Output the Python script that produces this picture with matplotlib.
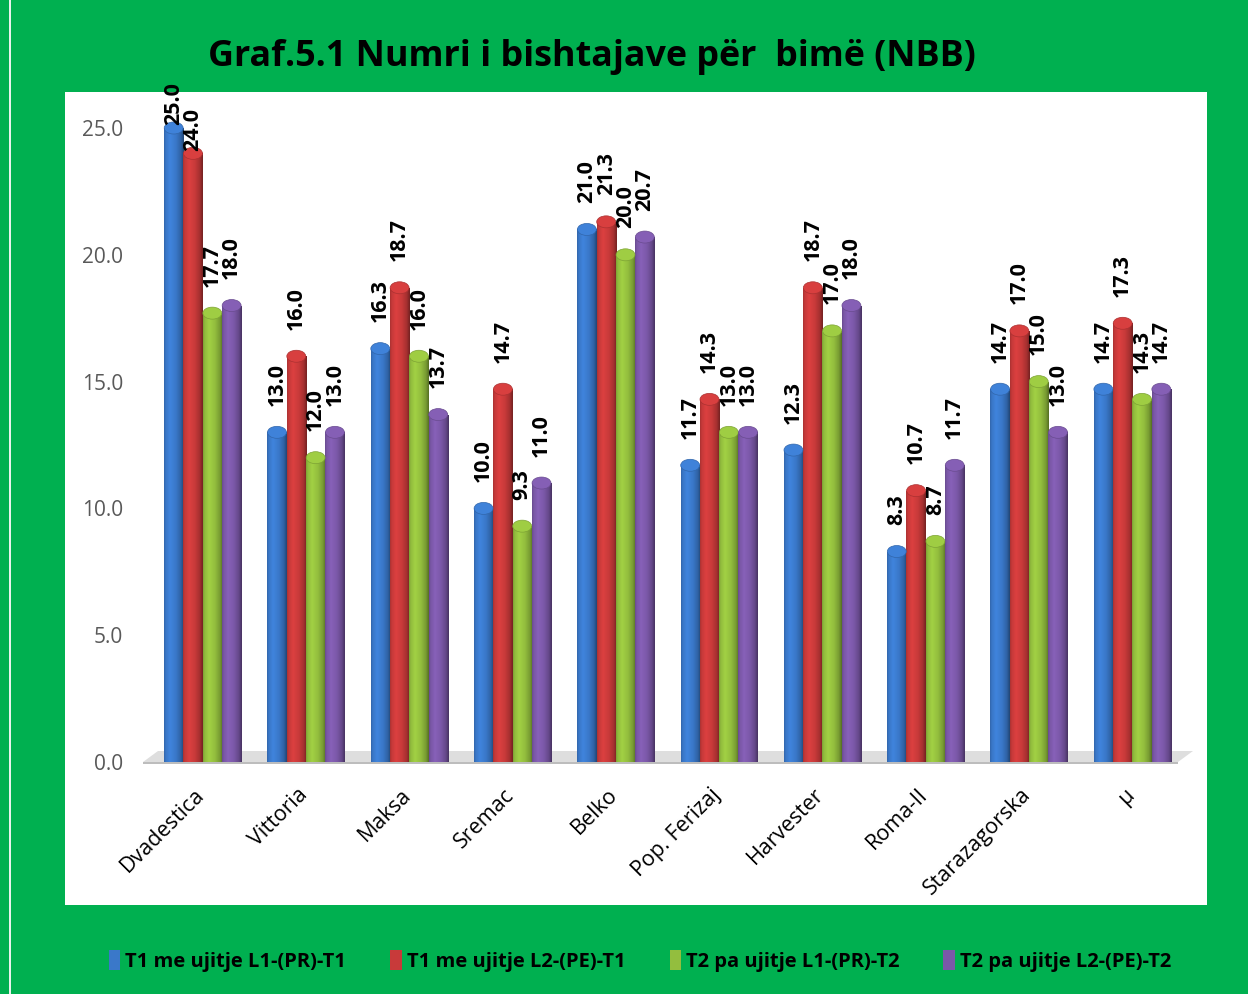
import numpy as np
import matplotlib
matplotlib.use("Agg")
import matplotlib.pyplot as plt
from matplotlib.patches import Rectangle, Polygon, Patch, Ellipse
from matplotlib.colors import to_rgb
from matplotlib.transforms import ScaledTranslation

categories = ["Dvadestica", "Vittoria", "Maksa", "Sremac", "Belko",
              "Pop. Ferizaj", "Harvester", "Roma-II", "Starazagorska", "\u03bc"]
series_names = ["T1 me ujitje L1-(PR)-T1", "T1 me ujitje L2-(PE)-T1",
                "T2 pa ujitje L1-(PR)-T2", "T2 pa ujitje L2-(PE)-T2"]
t1_l1 = [25.0, 13.0, 16.3, 10.0, 21.0, 11.7, 12.3, 8.3, 14.7, 14.7]
t1_l2 = [24.0, 16.0, 18.7, 14.7, 21.3, 14.3, 18.7, 10.7, 17.0, 17.3]
t2_l1 = [17.7, 12.0, 16.0, 9.3, 20.0, 13.0, 17.0, 8.7, 15.0, 14.3]
t2_l2 = [18.0, 13.0, 13.7, 11.0, 20.7, 13.0, 18.0, 11.7, 13.0, 14.7]
yticks = [0.0, 5.0, 10.0, 15.0, 20.0, 25.0]
title = "Graf.5.1 Numri i bishtajave p\u00ebr  bim\u00eb (NBB)"

colors = ["#3A78C9", "#C83A3A", "#93BE3E", "#7B58A8"]
GREEN = "#00B050"

W, H = 1248, 994
fig = plt.figure(figsize=(W / 100, H / 100), dpi=100)
fig.patch.set_facecolor(GREEN)

# white plot panel
fig.patches.append(Rectangle((65 / W, 1 - 905 / H), (1207 - 65) / W, (905 - 92) / H,
                             transform=fig.transFigure, facecolor="white",
                             edgecolor="none", zorder=-10))
# thin light edge on the left
fig.patches.append(Rectangle((9 / W, 0), 2 / W, 1, transform=fig.transFigure,
                             facecolor="#e8f3ec", edgecolor="none", zorder=-10))

ax = fig.add_axes([151 / W, 1 - 762 / H, 1033 / W, 670 / H])
ax.set_facecolor("none")
ax.patch.set_alpha(0)
for s in ax.spines.values():
    s.set_visible(False)

n = len(categories)
x = np.arange(n)
w = 0.187
ymax = 26.42
ax.set_xlim(-0.5, n - 0.5)
ax.set_ylim(0, ymax)

# floor (3D base)
px_per_unit_x = 1033 / n
px_per_unit_y = 670 / ymax
fx0 = (143 - 151) / px_per_unit_x - 0.5
fx1 = (1178 - 151) / px_per_unit_x - 0.5
dx = 15 / px_per_unit_x
dy = 11 / px_per_unit_y
ax.add_patch(Polygon([[fx0, 0], [fx1, 0], [fx1 + dx, dy], [fx0 + dx, dy]],
                     closed=True, facecolor="#dedede", edgecolor="none", zorder=1,
                     clip_on=False))
ax.add_patch(Polygon([[fx0, 0], [fx1, 0], [fx1, -2 / px_per_unit_y], [fx0, -2 / px_per_unit_y]],
                     closed=True, facecolor="#bdbdbd", edgecolor="none", zorder=1,
                     clip_on=False))

profile = np.linspace(0, 1, 64)
shade = np.interp(profile, [0, 0.08, 0.3, 0.6, 0.85, 1.0], [0.85, 0.98, 1.10, 1.0, 0.82, 0.58])

all_series = [t1_l1, t1_l2, t2_l1, t2_l2]
offsets = [-1.5 * w, -0.5 * w, 0.5 * w, 1.5 * w]
cap_h = 6 / px_per_unit_y
for si, (vals, col) in enumerate(zip(all_series, colors)):
    rgb = np.array(to_rgb(col))
    bars = ax.bar(x + offsets[si], vals, width=w, color=col, edgecolor="none", zorder=3)
    img = np.clip(shade[None, :, None] * rgb[None, None, :], 0, 1)
    for b in bars:
        bx, bw, bh = b.get_x(), b.get_width(), b.get_height()
        im = ax.imshow(img, extent=(bx, bx + bw, 0, bh), aspect="auto",
                       origin="lower", zorder=4, interpolation="bilinear")
        im.set_clip_path(b)
        # rounded top cap
        cap = Ellipse((bx + bw / 2, bh), bw * 0.98, cap_h * 2, facecolor=np.clip(rgb * 1.08, 0, 1),
                      edgecolor=np.clip(rgb * 0.85, 0, 1), lw=0.5, zorder=5, clip_on=False)
        ax.add_patch(cap)
        v = bh
        off = 2 if v + 2.45 > ymax else 19
        ax.annotate(f"{v:.1f}", (bx + bw / 2, v), xytext=(0, off), textcoords="offset points",
                    rotation=90, ha="center", va="bottom", fontsize=15.5, fontweight="bold",
                    family="Open Sans", color="black", zorder=6, annotation_clip=False)

ax.set_xlim(-0.5, n - 0.5)
ax.set_ylim(0, ymax)

ax.set_yticks(yticks)
ax.set_yticklabels([f"{t:.1f}" for t in yticks], fontsize=15, color="#595959", family="Open Sans")
ax.tick_params(axis="y", length=0, pad=20)
ax.set_xticks(x)
ax.set_xticklabels(categories, rotation=45, ha="right", va="top", rotation_mode="anchor",
                   fontsize=15.5, family="Open Sans", color="black")
ax.tick_params(axis="x", length=0, pad=16)
shift = ScaledTranslation(-9 / 100, 0, fig.dpi_scale_trans)
for lbl in ax.get_xticklabels():
    lbl.set_transform(lbl.get_transform() + shift)

fig.text(592 / W, 1 - 57 / H, title, ha="center", va="center", fontsize=25.8,
         fontweight="bold", family="Open Sans", color="black")

handles = [Patch(facecolor=c, edgecolor="none") for c in colors]
leg = fig.legend(handles, series_names, loc="center", bbox_to_anchor=(640 / W, 1 - 961 / H),
                 ncol=4, frameon=False, handlelength=0.55, handleheight=1.1, handletextpad=0.25,
                 columnspacing=2.2, prop={"family": "Open Sans", "weight": "bold", "size": 14.5})

fig.savefig("out.png", dpi=100, facecolor=GREEN)
